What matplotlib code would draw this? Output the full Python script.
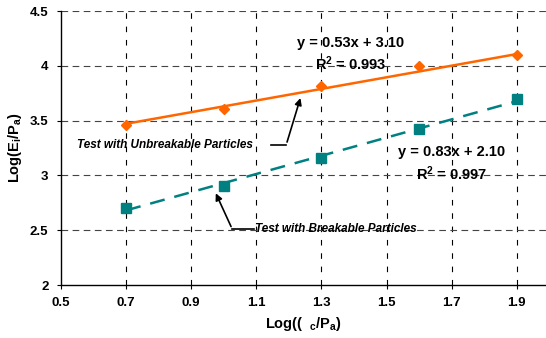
import matplotlib
matplotlib.use("Agg")
import matplotlib.pyplot as plt
import numpy as np

plt.rcParams['font.family'] = ['Liberation Sans', 'DejaVu Sans']
plt.rcParams['mathtext.fontset'] = 'custom'
plt.rcParams['mathtext.rm'] = 'Liberation Sans:bold'
plt.rcParams['mathtext.it'] = 'Liberation Sans:bold'
plt.rcParams['mathtext.bf'] = 'Liberation Sans:bold'

x_vals = [0.7, 1.0, 1.3, 1.6, 1.9]
unbreakable = [3.46, 3.61, 3.82, 4.00, 4.10]
breakable = [2.70, 2.90, 3.16, 3.42, 3.70]
fit_unb = (0.53, 3.10)
fit_brk = (0.83, 2.10)
xticks = [0.5, 0.7, 0.9, 1.1, 1.3, 1.5, 1.7, 1.9]
yticks = [2, 2.5, 3, 3.5, 4, 4.5]

orange = '#FF6600'
teal = '#008080'

fig = plt.figure(figsize=(5.46, 3.38), dpi=100)
ax = fig.add_axes([61/546, 1-285/338, 1-61/546, (285-11)/338])
ax.set_xlim(0.5, 1.99)
ax.set_ylim(2, 4.5)
ax.set_xticks(xticks)
ax.set_yticks(yticks)
ax.set_xticklabels([f"{t:g}" for t in xticks], fontsize=9.5, fontweight='bold')
ax.set_yticklabels([f"{t:g}" for t in yticks], fontsize=9.5, fontweight='bold')
ax.tick_params(direction='out', length=3, width=0.8, pad=6)

for s in ['top', 'right']:
    ax.spines[s].set_visible(False)
ax.spines['left'].set_linewidth(1.0)
ax.spines['bottom'].set_linewidth(1.0)

for t in xticks[1:]:
    ax.axvline(t, color='black', lw=0.8, ls=(0, (5, 7)), zorder=1)
for t in yticks[1:]:
    ax.axhline(t, color='#444444', lw=0.8, ls=(0, (6, 4)), zorder=1)

xs = np.array([x_vals[0], x_vals[-1]])
ax.plot(xs, fit_unb[0]*xs + fit_unb[1], color=orange, lw=1.8, zorder=3)
ax.plot(xs, fit_brk[0]*xs + fit_brk[1], color=teal, lw=1.8, ls=(0, (6, 4)), zorder=3)
ax.plot(x_vals, unbreakable, ls='none', marker='D', ms=5.5, color=orange, zorder=4)
ax.plot(x_vals, breakable, ls='none', marker='s', ms=7, color=teal, zorder=4)

ax.text(1.39, 4.21, "y = 0.53x + 3.10", ha='center', va='center', fontsize=10.5, fontweight='bold')
ax.text(1.39, 4.02, r"R$^2$ = 0.993", ha='center', va='center', fontsize=10.5, fontweight='bold')
ax.text(1.70, 3.21, "y = 0.83x + 2.10", ha='center', va='center', fontsize=10.5, fontweight='bold')
ax.text(1.70, 3.02, r"R$^2$ = 0.997", ha='center', va='center', fontsize=10.5, fontweight='bold')

ax.text(0.548, 3.28, "Test with Unbreakable Particles", ha='left', va='center',
        fontsize=8.5, fontweight='bold', style='italic')
ax.text(1.097, 2.51, "Test with Breakable Particles", ha='left', va='center',
        fontsize=8.5, fontweight='bold', style='italic')

ax.plot([1.146, 1.192], [3.28, 3.28], color='black', lw=1.2, zorder=5)
ax.annotate("", xy=(1.238, 3.73), xytext=(1.192, 3.28),
            arrowprops=dict(arrowstyle='-|>', color='black', lw=1.2, mutation_scale=10), zorder=5)
ax.plot([1.094, 1.026], [2.51, 2.51], color='black', lw=1.2, zorder=5)
ax.annotate("", xy=(0.972, 2.86), xytext=(1.026, 2.51),
            arrowprops=dict(arrowstyle='-|>', color='black', lw=1.2, mutation_scale=10), zorder=5)

ax.set_xlabel(r"Log((  $_c$/P$_a$)", fontsize=10.5, fontweight='bold', labelpad=4)
ax.set_ylabel(r"Log(E$_i$/P$_a$)", fontsize=10.5, fontweight='bold', labelpad=4)

fig.savefig("out.png", dpi=100)
